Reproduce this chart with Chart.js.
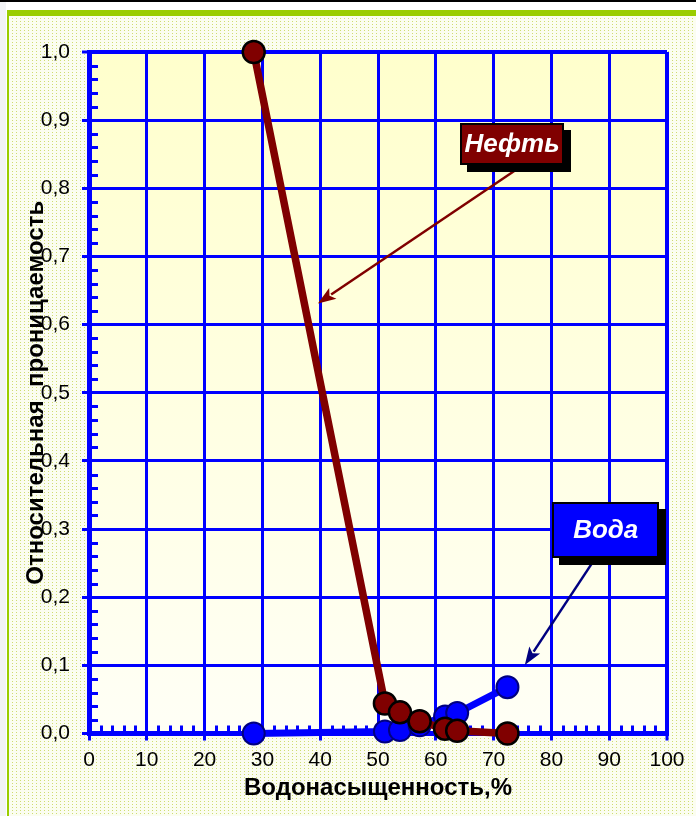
<!DOCTYPE html>
<html>
<head>
<meta charset="utf-8">
<script src="https://cdn.jsdelivr.net/npm/chart.js@4.4.1/dist/chart.umd.min.js"></script>
<style>
  html, body { margin: 0; padding: 0; background: #ffffff; }
  #wrap { width: 696px; height: 816px; position: relative; overflow: hidden; }
  canvas { display: block; }
</style>
</head>
<body>
<div id="wrap"><canvas id="chart" width="696" height="816"></canvas></div>
<script>
// Relative permeability curves: oil and water vs. water saturation
const waterSaturation   = [28.5, 51.2, 53.8, 57.2, 61.6, 63.7, 72.4];
const oilPermeability   = [1.0, 0.044, 0.031, 0.018, 0.007, 0.004, 0.0];
const waterPermeability = [0.0, 0.003, 0.005, 0.012, 0.025, 0.030, 0.068];

const seriesNames = ['Нефть', 'Вода'];
const xTickLabels = ['0', '10', '20', '30', '40', '50', '60', '70', '80', '90', '100'];
const yTickLabels = ['0,0', '0,1', '0,2', '0,3', '0,4', '0,5', '0,6', '0,7', '0,8', '0,9', '1,0'];
const xTitle = 'Водонасыщенность,%';
const yTitle = 'Относительная  проницаемость';

// Callout boxes with arrows, placed in data coordinates
const callouts = [
  { text: seriesNames[0], fill: '#800000', arrow: '#800000',
    box: { x: 73.2, y: 0.865, w: 104, h: 42 },
    from: { x: 73.7, y: 0.826 }, to: { x: 39.6, y: 0.631 } },
  { text: seriesNames[1], fill: '#0000ff', arrow: '#000080',
    box: { x: 89.4, y: 0.2985, w: 107, h: 56 },
    from: { x: 88.75, y: 0.272 }, to: { x: 75.4, y: 0.1005 } }
];

const FONT = "'Liberation Sans', Arial, sans-serif";
const BLUE = '#0000ff';

function toPoints(xs, ys) {
  return xs.map((x, i) => ({ x: x, y: ys[i] }));
}

// Dotted page background
function makeDotPattern(ctx) {
  const pc = document.createElement('canvas');
  pc.width = 4; pc.height = 3;
  const p = pc.getContext('2d');
  p.fillStyle = '#fbfdf0';
  p.fillRect(0, 0, 4, 3);
  p.fillStyle = '#cfdc72';
  p.fillRect(0, 0, 1, 1);
  return ctx.createPattern(pc, 'repeat');
}

const framePlugin = {
  id: 'frame',
  beforeDraw(chart) {
    const ctx = chart.ctx;
    const W = chart.width, H = chart.height;
    const a = chart.chartArea;
    ctx.save();
    ctx.fillStyle = '#ffffff';
    ctx.fillRect(0, 0, W, H);
    ctx.fillStyle = makeDotPattern(ctx);
    ctx.fillRect(9, 16, W - 9, H - 16);
    // left strip and top bars
    ctx.fillStyle = '#f2f3f6';
    ctx.fillRect(0, 0, 6, H);
    ctx.fillStyle = '#9acd00';
    ctx.fillRect(7, 10, W - 7, 6);
    ctx.fillRect(7, 10, 2, H - 10);
    ctx.fillStyle = '#000000';
    ctx.fillRect(0, 0, W, 2);
    // plot area fill
    const g = ctx.createLinearGradient(0, a.top, 0, a.bottom);
    g.addColorStop(0, '#ffffcc');
    g.addColorStop(1, '#fffff6');
    ctx.fillStyle = g;
    ctx.fillRect(a.left, a.top, a.right - a.left, a.bottom - a.top);
    ctx.restore();
  }
};

// Minor tick marks on the inner side of both axes
const minorTicksPlugin = {
  id: 'minorTicks',
  beforeDatasetsDraw(chart) {
    const ctx = chart.ctx;
    const xs = chart.scales.x, ys = chart.scales.y;
    const a = chart.chartArea;
    ctx.save();
    ctx.strokeStyle = BLUE;
    ctx.lineWidth = 3;
    ctx.beginPath();
    for (let i = 1; i < 50; i++) {
      if (i % 5 === 0) continue;
      const py = Math.round(ys.getPixelForValue(i * 0.02)) + 0.5;
      ctx.moveTo(a.left, py);
      ctx.lineTo(a.left + 9, py);
    }
    for (let i = 1; i < 50; i++) {
      if (i % 5 === 0) continue;
      const px = Math.round(xs.getPixelForValue(i * 2)) + 0.5;
      ctx.moveTo(px, a.bottom);
      ctx.lineTo(px, a.bottom - 8);
    }
    ctx.stroke();
    ctx.restore();
  }
};

function drawArrow(ctx, x1, y1, x2, y2, color, width, headLen, headW) {
  const ang = Math.atan2(y2 - y1, x2 - x1);
  const c = Math.cos(ang), s = Math.sin(ang);
  const bx = x2 - c * headLen, by = y2 - s * headLen;
  ctx.save();
  ctx.strokeStyle = color;
  ctx.fillStyle = color;
  ctx.lineWidth = width;
  ctx.beginPath();
  ctx.moveTo(x1, y1);
  ctx.lineTo(bx + c * 2, by + s * 2);
  ctx.stroke();
  ctx.beginPath();
  ctx.moveTo(x2, y2);
  ctx.lineTo(bx - s * headW / 2, by + c * headW / 2);
  ctx.lineTo(bx + c * 4, by + s * 4);
  ctx.lineTo(bx + s * headW / 2, by - c * headW / 2);
  ctx.closePath();
  ctx.fill();
  ctx.restore();
}

const calloutPlugin = {
  id: 'callouts',
  afterDatasetsDraw(chart) {
    const ctx = chart.ctx;
    const xs = chart.scales.x, ys = chart.scales.y;
    callouts.forEach(c => {
      drawArrow(ctx,
        xs.getPixelForValue(c.from.x), ys.getPixelForValue(c.from.y),
        xs.getPixelForValue(c.to.x), ys.getPixelForValue(c.to.y),
        c.arrow, 2.5, 18, 13);
    });
    callouts.forEach(c => {
      const cx = xs.getPixelForValue(c.box.x), cy = ys.getPixelForValue(c.box.y);
      const x = Math.round(cx - c.box.w / 2), y = Math.round(cy - c.box.h / 2);
      ctx.save();
      ctx.fillStyle = '#000000';
      ctx.fillRect(x + 7, y + 7, c.box.w, c.box.h);
      ctx.fillStyle = c.fill;
      ctx.fillRect(x, y, c.box.w, c.box.h);
      ctx.strokeStyle = '#000000';
      ctx.lineWidth = 2;
      ctx.strokeRect(x + 1, y + 1, c.box.w - 2, c.box.h - 2);
      ctx.fillStyle = '#ffffff';
      ctx.font = 'italic bold 26px ' + FONT;
      ctx.textAlign = 'center';
      ctx.textBaseline = 'middle';
      ctx.fillText(c.text, cx, cy + 1);
      ctx.restore();
    });
  }
};

const tickFont = { family: FONT, size: 21 };
const titleFont = { family: FONT, size: 24, weight: 'bold' };

new Chart(document.getElementById('chart'), {
  type: 'scatter',
  data: {
    datasets: [
      {
        label: seriesNames[0],
        data: toPoints(waterSaturation, oilPermeability),
        showLine: true,
        borderColor: '#800000',
        borderWidth: 7.5,
        pointRadius: 11,
        pointHoverRadius: 11,
        pointBackgroundColor: '#800000',
        pointBorderColor: '#000000',
        pointBorderWidth: 2.5,
        clip: false
      },
      {
        label: seriesNames[1],
        data: toPoints(waterSaturation, waterPermeability),
        showLine: true,
        borderColor: BLUE,
        borderWidth: 7,
        pointRadius: 11,
        pointHoverRadius: 11,
        pointBackgroundColor: BLUE,
        pointBorderColor: '#000080',
        pointBorderWidth: 2,
        clip: false
      }
    ]
  },
  options: {
    responsive: false,
    animation: false,
    devicePixelRatio: 1,
    events: [],
    layout: { padding: { top: 52, right: 29, left: 0, bottom: 0 } },
    plugins: {
      legend: { display: false },
      tooltip: { enabled: false },
      title: { display: false }
    },
    scales: {
      x: {
        type: 'linear',
        min: 0, max: 100,
        afterFit(scale) { scale.height = 82.5; },
        ticks: {
          stepSize: 10,
          color: '#000000',
          font: tickFont,
          padding: 7,
          maxRotation: 0,
          callback: (v) => xTickLabels[Math.round(v / 10)]
        },
        grid: {
          color: BLUE,
          lineWidth: (c) => (c.tick && c.tick.value === 100 ? 4 : 3),
          tickLength: 7,
          tickWidth: 3,
          tickColor: BLUE
        },
        border: { display: true, color: BLUE, width: 5 },
        title: {
          display: true,
          text: xTitle,
          color: '#000000',
          font: titleFont,
          padding: { top: 0, bottom: 13 }
        }
      },
      y: {
        type: 'linear',
        min: 0, max: 1,
        afterFit(scale) { scale.width = 89; },
        ticks: {
          stepSize: 0.1,
          color: '#000000',
          font: tickFont,
          padding: 12,
          callback: (v) => yTickLabels[Math.round(v * 10)]
        },
        grid: {
          color: BLUE,
          lineWidth: (c) => (c.tick && Math.abs(c.tick.value - 1) < 1e-9 ? 4 : 3),
          tickLength: 7,
          tickWidth: 3,
          tickColor: BLUE
        },
        border: { display: true, color: BLUE, width: 5 },
        title: {
          display: true,
          text: yTitle,
          color: '#000000',
          font: titleFont,
          padding: { top: 22, bottom: 0 }
        }
      }
    }
  },
  plugins: [framePlugin, minorTicksPlugin, calloutPlugin]
});
</script>
</body>
</html>
